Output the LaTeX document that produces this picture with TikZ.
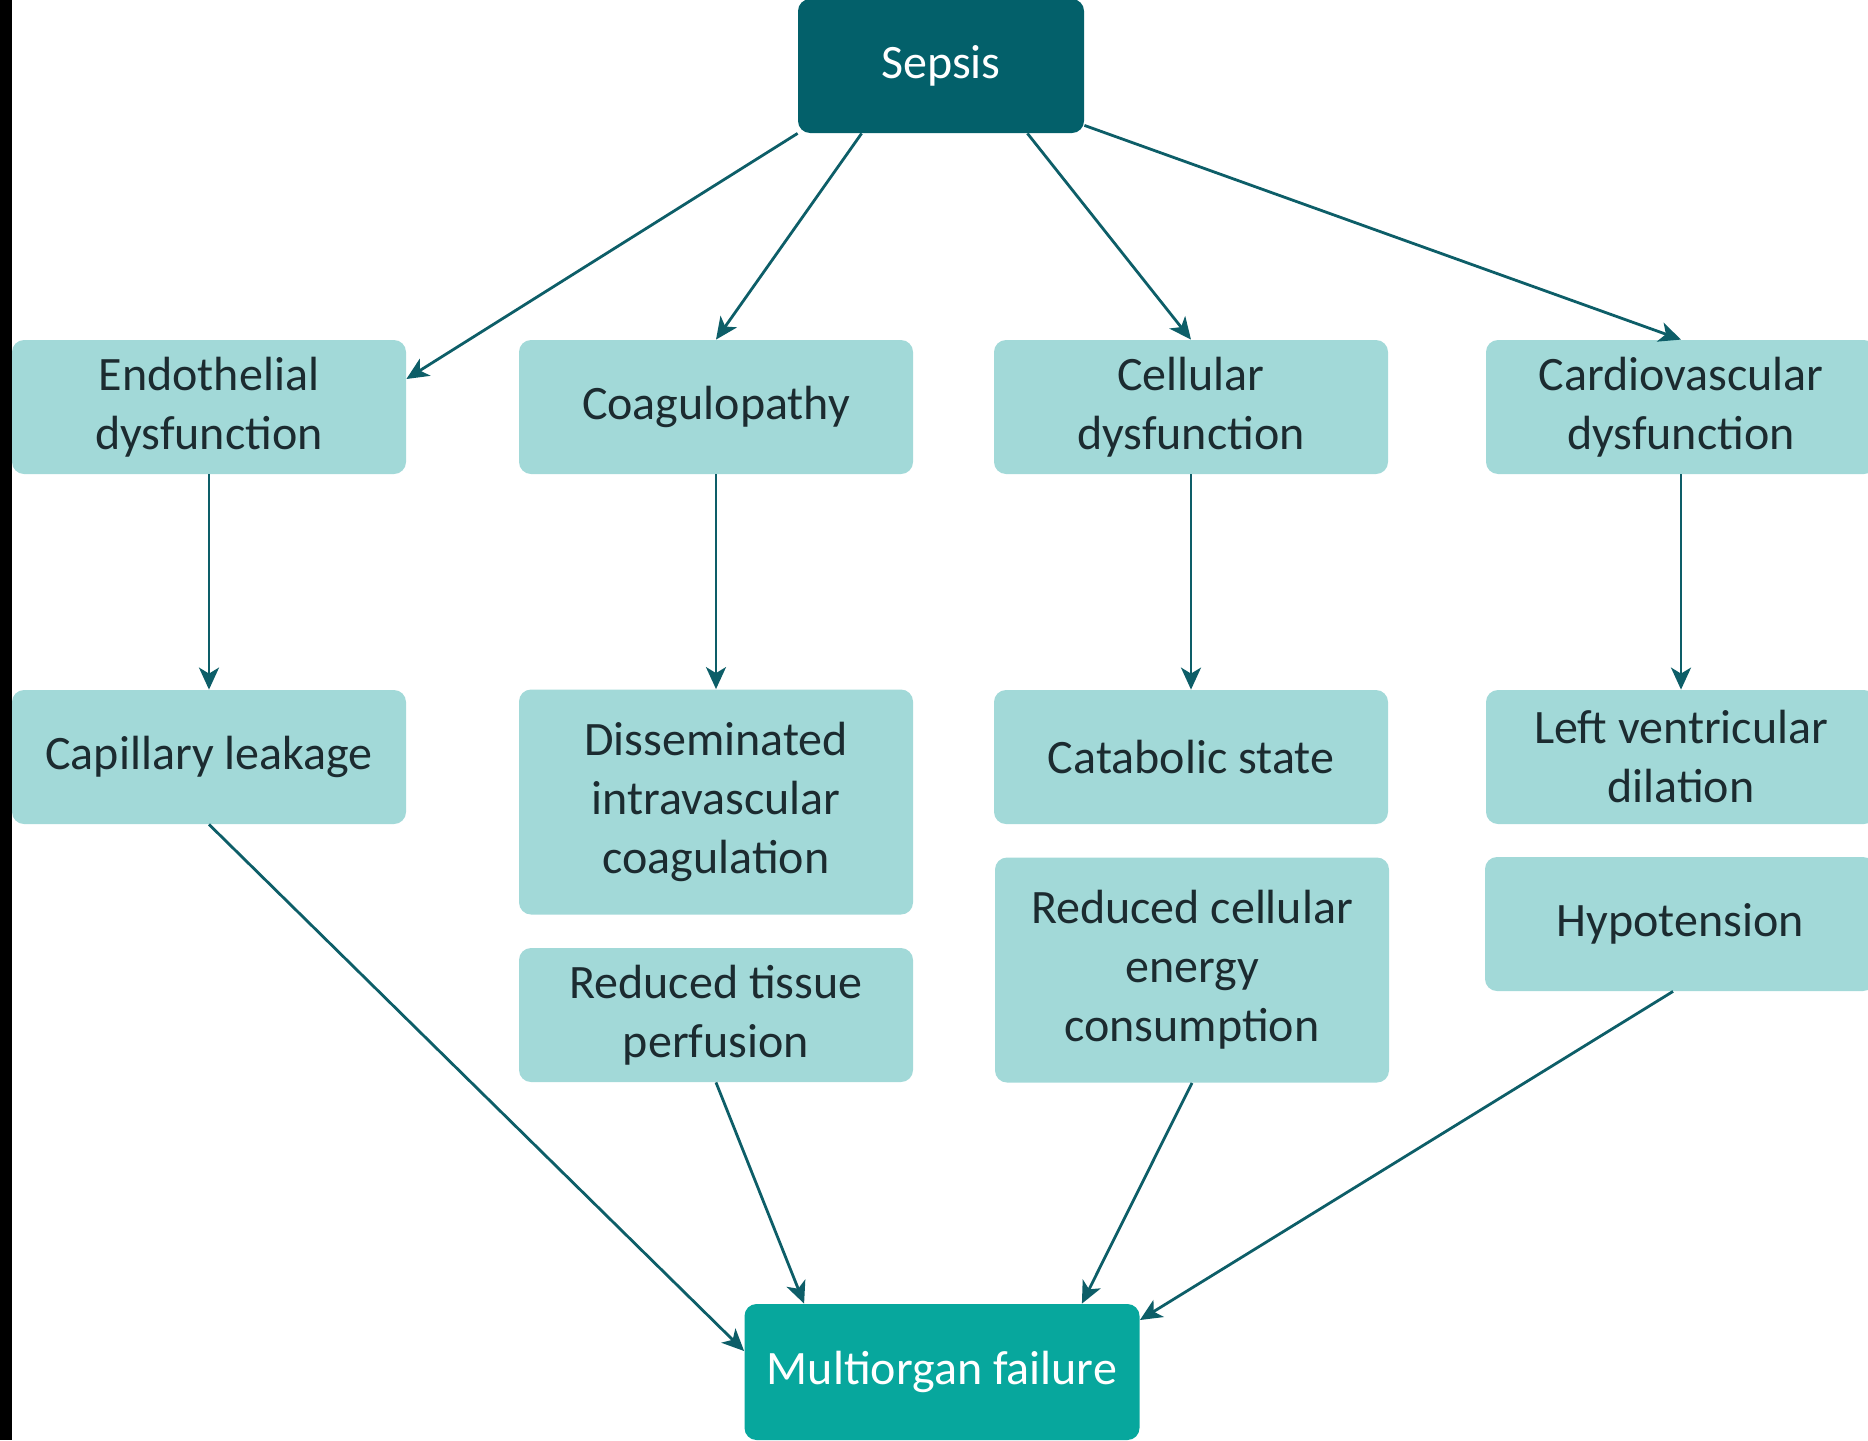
\documentclass[tikz,border=0pt]{standalone}
\usepackage{fontspec}
\setmainfont{Carlito}
\usetikzlibrary{arrows.meta}

\definecolor{darkteal}{HTML}{03606A}
\definecolor{midteal}{HTML}{07A79D}
\definecolor{paleteal}{HTML}{A2D9D8}
\definecolor{linkteal}{HTML}{0D5E68}
\definecolor{inktext}{HTML}{1C2B30}

\begin{document}
\begin{tikzpicture}[x=0.5pt,y=-0.5pt,
		box/.style={rounded corners=6pt, inner sep=0pt, align=center,
			font=\fontsize{24}{29.5}\selectfont},
		palebox/.style={box, fill=paleteal, text=inktext, minimum width=197pt, minimum height=67pt},
		tallbox/.style={palebox, minimum height=112.5pt},
		link/.style={draw=linkteal, line width=1.4pt, -{Stealth[length=11pt,width=10pt,inset=3pt]}}]
	\useasboundingbox (0,0) rectangle (1868,1440);
	\fill[black] (0,0) rectangle (12,1440); % scan edge

	\node[box, fill=darkteal, text=white, minimum width=143pt, minimum height=67pt] (sepsis) at (941,66) {Sepsis};

	% first row
	\node[palebox] (endo) at (209,407) {Endothelial\\dysfunction};
	\node[palebox] (coag) at (716,407) {Coagulopathy};
	\node[palebox] (cell) at (1191,407) {Cellular\\dysfunction};
	\node[palebox, minimum width=195pt] (cardio) at (1681,407) {Cardiovascular\\dysfunction};

	% second row
	\node[palebox] (capil) at (209,757) {\raisebox{-1.5pt}{Capillary leakage}};
	\node[tallbox] (dic) at (716,802) {Disseminated\\intravascular\\coagulation};
	\node[palebox] (catab) at (1191,757) {Catabolic state};
	\node[palebox, minimum width=195pt] (lvd) at (1681,757) {Left ventricular\\dilation};

	% third row
	\node[palebox] (perf) at (716,1015) {Reduced tissue\\perfusion};
	\node[tallbox] (energy) at (1192,970) {Reduced cellular\\energy\\consumption};
	\node[palebox, minimum width=195pt] (hypo) at (1680,924) {Hypotension};

	\node[box, fill=midteal, text=white, minimum width=197.5pt, minimum height=68pt] (mof) at (942,1372) {Multiorgan failure};

	\draw[link] (sepsis.south west) -- ([yshift=14pt]endo.east);
	\draw[link] ([xshift=32pt]sepsis.south west) -- (coag.north);
	\draw[link] ([xshift=-28.5pt]sepsis.south east) -- (cell.north);
	\draw[link] ([yshift=4pt]sepsis.south east) -- (cardio.north);

	\draw[link] (endo.south) -- (capil.north);
	\draw[link] (coag.south) -- (dic.north);
	\draw[link] (cell.south) -- (catab.north);
	\draw[link] (cardio.south) -- (lvd.north);

	\draw[link] (capil.south) -- ([yshift=10.5pt]mof.west);
	\draw[link] (perf.south) -- ([xshift=30pt]mof.north west);
	\draw[link] (energy.south) -- ([xshift=-29pt]mof.north east);
	\draw[link] ([xshift=-3.5pt]hypo.south) -- ([yshift=26pt]mof.east);
\end{tikzpicture}
\end{document}
